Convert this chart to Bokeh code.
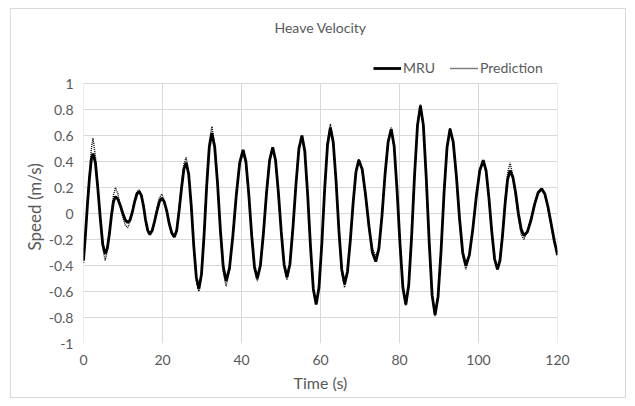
from bokeh.plotting import figure
from bokeh.models import Legend, LegendItem, FixedTicker, Range1d, Label, Title
from bokeh.embed import file_html
from bokeh.resources import INLINE

title_text = "Heave Velocity"
x_label = "Time (s)"
y_label = "Speed (m/s)"
x_ticks = [0, 20, 40, 60, 80, 100, 120]
y_ticks = [-1, -0.8, -0.6, -0.4, -0.2, 0, 0.2, 0.4, 0.6, 0.8, 1]

time_s = [
    0, 0.5, 1.0, 1.5, 2.0, 2.4, 3.02, 3.64, 4.26, 4.88, 5.5, 6.02, 6.54, 7.06, 7.58,
    8.1, 8.72, 9.34, 9.96, 10.58, 11.2, 11.78, 12.36, 12.94, 13.52, 14.1, 14.64, 15.18,
    15.72, 16.26, 16.8, 17.4, 18.0, 18.6, 19.2, 19.8, 20.44, 21.08, 21.72, 22.36, 23.0,
    23.6, 24.2, 24.8, 25.4, 26.0, 26.64, 27.28, 27.92, 28.56, 29.2, 29.86, 30.52, 31.18,
    31.84, 32.5, 33.22, 33.94, 34.66, 35.38, 36.1, 36.96, 37.82, 38.68, 39.54, 40.4,
    41.12, 41.84, 42.56, 43.28, 44.0, 44.78, 45.56, 46.34, 47.12, 47.9, 48.62, 49.34,
    50.06, 50.78, 51.5, 52.26, 53.02, 53.78, 54.54, 55.3, 56.02, 56.74, 57.46, 58.18,
    58.9, 59.62, 60.34, 61.06, 61.78, 62.5, 63.22, 63.94, 64.66, 65.38, 66.1, 66.82,
    67.54, 68.26, 68.98, 69.7, 70.56, 71.42, 72.28, 73.14, 74.0, 74.78, 75.56, 76.34,
    77.12, 77.9, 78.64, 79.38, 80.12, 80.86, 81.6, 82.34, 83.08, 83.82, 84.56, 85.3,
    86.04, 86.78, 87.52, 88.26, 89.0, 89.76, 90.52, 91.28, 92.04, 92.8, 93.6, 94.4,
    95.2, 96.0, 96.8, 97.68, 98.56, 99.44, 100.32, 101.2, 101.92, 102.64, 103.36,
    104.08, 104.8, 105.44, 106.08, 106.72, 107.36, 108.0, 108.7, 109.4, 110.1, 110.8,
    111.5, 112.4, 113.3, 114.2, 115.1, 116.0, 116.8, 117.6, 118.4, 119.2, 120.0,
]

mru = [
    -0.36, -0.16, 0.07, 0.27, 0.42, 0.46, 0.39, 0.19, -0.04, -0.24, -0.31, -0.27, -0.16, -0.02, 0.09,
    0.13, 0.11, 0.06, 0.00, -0.05, -0.07, -0.05, 0.01, 0.09, 0.15, 0.17, 0.14, 0.06,
    -0.05, -0.13, -0.16, -0.13, -0.06, 0.02, 0.09, 0.12, 0.09, 0.02, -0.08, -0.15, -0.18,
    -0.13, 0.02, 0.19, 0.34, 0.39, 0.30, 0.06, -0.25, -0.49, -0.58, -0.47, -0.17, 0.21,
    0.51, 0.62, 0.51, 0.23, -0.13, -0.41, -0.52, -0.42, -0.17, 0.14, 0.39, 0.49,
    0.40, 0.15, -0.16, -0.41, -0.50, -0.40, -0.15, 0.16, 0.41, 0.51, 0.41, 0.16,
    -0.14, -0.39, -0.49, -0.39, -0.11, 0.22, 0.50, 0.60, 0.48, 0.15, -0.25, -0.58,
    -0.70, -0.57, -0.23, 0.19, 0.53, 0.66, 0.55, 0.25, -0.13, -0.43, -0.54, -0.45,
    -0.21, 0.08, 0.32, 0.41, 0.34, 0.14, -0.10, -0.30, -0.37, -0.27, -0.02, 0.30,
    0.55, 0.65, 0.52, 0.18, -0.23, -0.57, -0.70, -0.55, -0.17, 0.30, 0.68, 0.83,
    0.68, 0.27, -0.22, -0.63, -0.78, -0.64, -0.29, 0.16, 0.51, 0.65, 0.55, 0.29,
    -0.04, -0.30, -0.40, -0.32, -0.12, 0.13, 0.33, 0.41, 0.33, 0.12, -0.14,
    -0.35, -0.43, -0.36, -0.17, 0.07, 0.26, 0.33, 0.28, 0.16, 0.00, -0.12,
    -0.17, -0.14, -0.05, 0.07, 0.16, 0.19, 0.15, 0.05, -0.08, -0.21, -0.32,
]

prediction = [
    -0.38, -0.15, 0.09, 0.30, 0.50, 0.58, 0.44, 0.20, -0.05, -0.27, -0.36, -0.29, -0.15, 0.00, 0.14,
    0.20, 0.15, 0.05, -0.03, -0.09, -0.11, -0.06, 0.02, 0.10, 0.17, 0.18, 0.14, 0.05,
    -0.06, -0.14, -0.17, -0.13, -0.05, 0.04, 0.12, 0.15, 0.10, 0.01, -0.09, -0.16, -0.18,
    -0.12, 0.04, 0.22, 0.38, 0.43, 0.31, 0.05, -0.27, -0.52, -0.60, -0.48, -0.16, 0.23,
    0.55, 0.67, 0.53, 0.22, -0.15, -0.45, -0.56, -0.44, -0.16, 0.15, 0.38, 0.46,
    0.38, 0.13, -0.17, -0.43, -0.52, -0.41, -0.14, 0.17, 0.42, 0.50, 0.40, 0.15,
    -0.15, -0.41, -0.51, -0.40, -0.10, 0.23, 0.51, 0.60, 0.47, 0.14, -0.26, -0.59,
    -0.70, -0.56, -0.22, 0.20, 0.55, 0.69, 0.56, 0.24, -0.15, -0.46, -0.57, -0.46,
    -0.20, 0.09, 0.34, 0.42, 0.33, 0.12, -0.12, -0.27, -0.33, -0.26, -0.01, 0.31,
    0.56, 0.66, 0.51, 0.17, -0.24, -0.58, -0.71, -0.55, -0.16, 0.31, 0.69, 0.84,
    0.67, 0.26, -0.23, -0.64, -0.79, -0.63, -0.28, 0.17, 0.52, 0.66, 0.54, 0.27,
    -0.06, -0.33, -0.43, -0.33, -0.11, 0.14, 0.34, 0.40, 0.32, 0.11, -0.15,
    -0.36, -0.43, -0.35, -0.15, 0.10, 0.31, 0.39, 0.29, 0.13, -0.04, -0.16,
    -0.20, -0.13, -0.03, 0.08, 0.17, 0.19, 0.14, 0.04, -0.10, -0.24, -0.30,
]

FONT = "Lato"
TXT = "#595959"
GRID = "#d9d9d9"

# frame spans from near the top of the chart box down to the -1 line; the area
# above +1 holds the title and legend (inside the frame, so nothing is clipped)
p = figure(width=614, height=388, frame_width=474, frame_height=329,
           output_backend="svg", toolbar_location=None,
           x_range=Range1d(0, 120), y_range=Range1d(-1, 1.5308),
           min_border_left=72, min_border_right=68, min_border_top=5, min_border_bottom=54)
p.styles = {"border": f"1px solid {GRID}", "margin-left": "10px", "margin-top": "8px"}
p.outline_line_color = None
p.background_fill_color = "white"
p.border_fill_color = "white"

for ax in (p.xaxis[0], p.yaxis[0]):
    ax.axis_line_color = None
    ax.major_tick_line_color = None
    ax.minor_tick_line_color = None
    ax.major_tick_out = 0
    ax.major_tick_in = 0
    ax.major_label_text_font = FONT
    ax.major_label_text_font_size = "14px"
    ax.major_label_text_color = TXT
    ax.axis_label_text_font = FONT
    ax.axis_label_text_font_size = "16px"
    ax.axis_label_text_color = TXT
    ax.axis_label_text_font_style = "normal"

p.xaxis[0].ticker = FixedTicker(ticks=x_ticks)
p.yaxis[0].ticker = FixedTicker(ticks=y_ticks)
p.yaxis[0].major_label_overrides = {v: (f"{v:g}") for v in y_ticks}
p.xaxis[0].axis_label = x_label
p.xaxis[0].major_label_standoff = 11
p.xaxis[0].axis_label_standoff = 5
p.yaxis[0].major_label_standoff = 10

ytitle = Title(text=y_label, align="left", offset=93, standoff=2,
               text_font=FONT, text_font_size="17px", text_font_style="normal",
               text_color=TXT)
p.add_layout(ytitle, "left")

p.xgrid.visible = False
p.ygrid.grid_line_color = GRID
p.ygrid.ticker = FixedTicker(ticks=y_ticks)
# vertical grid lines limited to the -1..1 box
p.segment(x0=x_ticks, y0=[y_ticks[0]] * len(x_ticks), x1=x_ticks,
          y1=[y_ticks[-1]] * len(x_ticks), line_color=GRID, line_width=1)

r_mru = p.line(time_s, mru, line_color="black", line_width=2.8)
r_pred = p.line(time_s, prediction, line_color="black", line_width=1.4, line_dash="1 1")

legend = Legend(items=[LegendItem(label="MRU", renderers=[r_mru]),
                       LegendItem(label="Prediction", renderers=[r_pred])],
                location=(290, 267), orientation="horizontal",
                padding=0, margin=0, spacing=15, glyph_width=28, glyph_height=14,
                label_standoff=2, border_line_color=None, background_fill_alpha=0,
                label_text_font=FONT, label_text_font_size="14px", label_text_color=TXT)
p.add_layout(legend)

p.add_layout(Label(x=237, y=316, x_units="screen", y_units="screen", text=title_text,
                   text_align="center", text_baseline="middle", text_font=FONT,
                   text_font_size="14px", text_color=TXT))

open("out.html", "w").write(file_html(p, INLINE))
